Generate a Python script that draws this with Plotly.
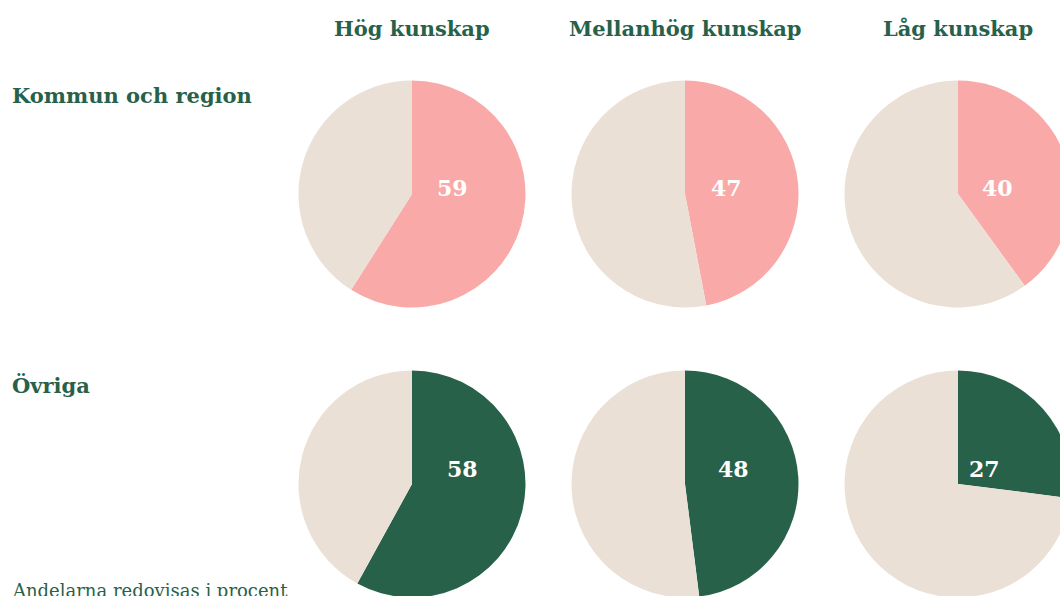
import plotly.graph_objects as go

# ---- data ----
columns = ["Hög kunskap", "Mellanhög kunskap", "Låg kunskap"]
rows = ["Kommun och region", "Övriga"]
kommun_region = [59, 47, 40]
ovriga = [58, 48, 27]
footnote = "Andelarna redovisas i procent"

# ---- style / layout ----
W, H = 1100, 640
col_cx = [412, 685, 958]
row_cy = [194, 484]
R = 113.5
accent = ["#F9AAA8", "#27614A"]
rest = "#EBE0D5"
txt = "#27614A"
FONT = "DejaVu Serif"
label_off = [[(40, -6), (41, -6), (40, -6)], [(50, -15), (48, -15), (27, -15)]]

fig = go.Figure()
ann = []
for ri, vals in enumerate([kommun_region, ovriga]):
    for ci, v in enumerate(vals):
        cx, cy = col_cx[ci], row_cy[ri]
        dom_x = [(cx - R) / W, (cx + R) / W]
        dom_y = [1 - (cy + R) / H, 1 - (cy - R) / H]
        fig.add_trace(go.Pie(
            values=[v, 100 - v],
            labels=["Andel", "Övrigt"],
            sort=False, direction="clockwise", rotation=0,
            marker=dict(colors=[accent[ri], rest], line=dict(width=0)),
            textinfo="none", hoverinfo="skip", showlegend=False,
            domain=dict(x=dom_x, y=dom_y),
        ))
        dx, dy = label_off[ri][ci]
        ann.append(dict(
            x=cx / W, y=1 - cy / H, xref="paper", yref="paper",
            text=f"<b>{v}</b>", showarrow=False, xanchor="center", yanchor="middle",
            xshift=dx, yshift=-dy,
            font=dict(family=FONT, size=22, color="white"),
        ))

for ci, c in enumerate(columns):
    ann.append(dict(
        x=col_cx[ci] / W, y=1 - 29 / H, xref="paper", yref="paper",
        text=f"<b>{c}</b>", showarrow=False, xanchor="center", yanchor="middle",
        font=dict(family=FONT, size=21, color=txt),
    ))

for ri, r in enumerate(rows):
    ann.append(dict(
        x=10 / W, y=1 - [95, 385][ri] / H, xref="paper", yref="paper",
        text=f"<b>{r}</b>", showarrow=False, xanchor="left", yanchor="middle",
        font=dict(family=FONT, size=21, color=txt),
    ))

ann.append(dict(
    x=10 / W, y=1 - 578 / H, xref="paper", yref="paper",
    text=footnote, showarrow=False, xanchor="left", yanchor="top",
    font=dict(family=FONT, size=18, color=txt),
))

fig.update_layout(
    width=W, height=H, autosize=False,
    margin=dict(l=0, r=0, t=0, b=0),
    paper_bgcolor="white", plot_bgcolor="white",
    annotations=ann,
)

fig.write_html(
    "out.html",
    config={"displayModeBar": False},
    post_script="document.documentElement.style.overflow='hidden';document.body.style.overflow='hidden';document.body.style.margin='0';",
)
